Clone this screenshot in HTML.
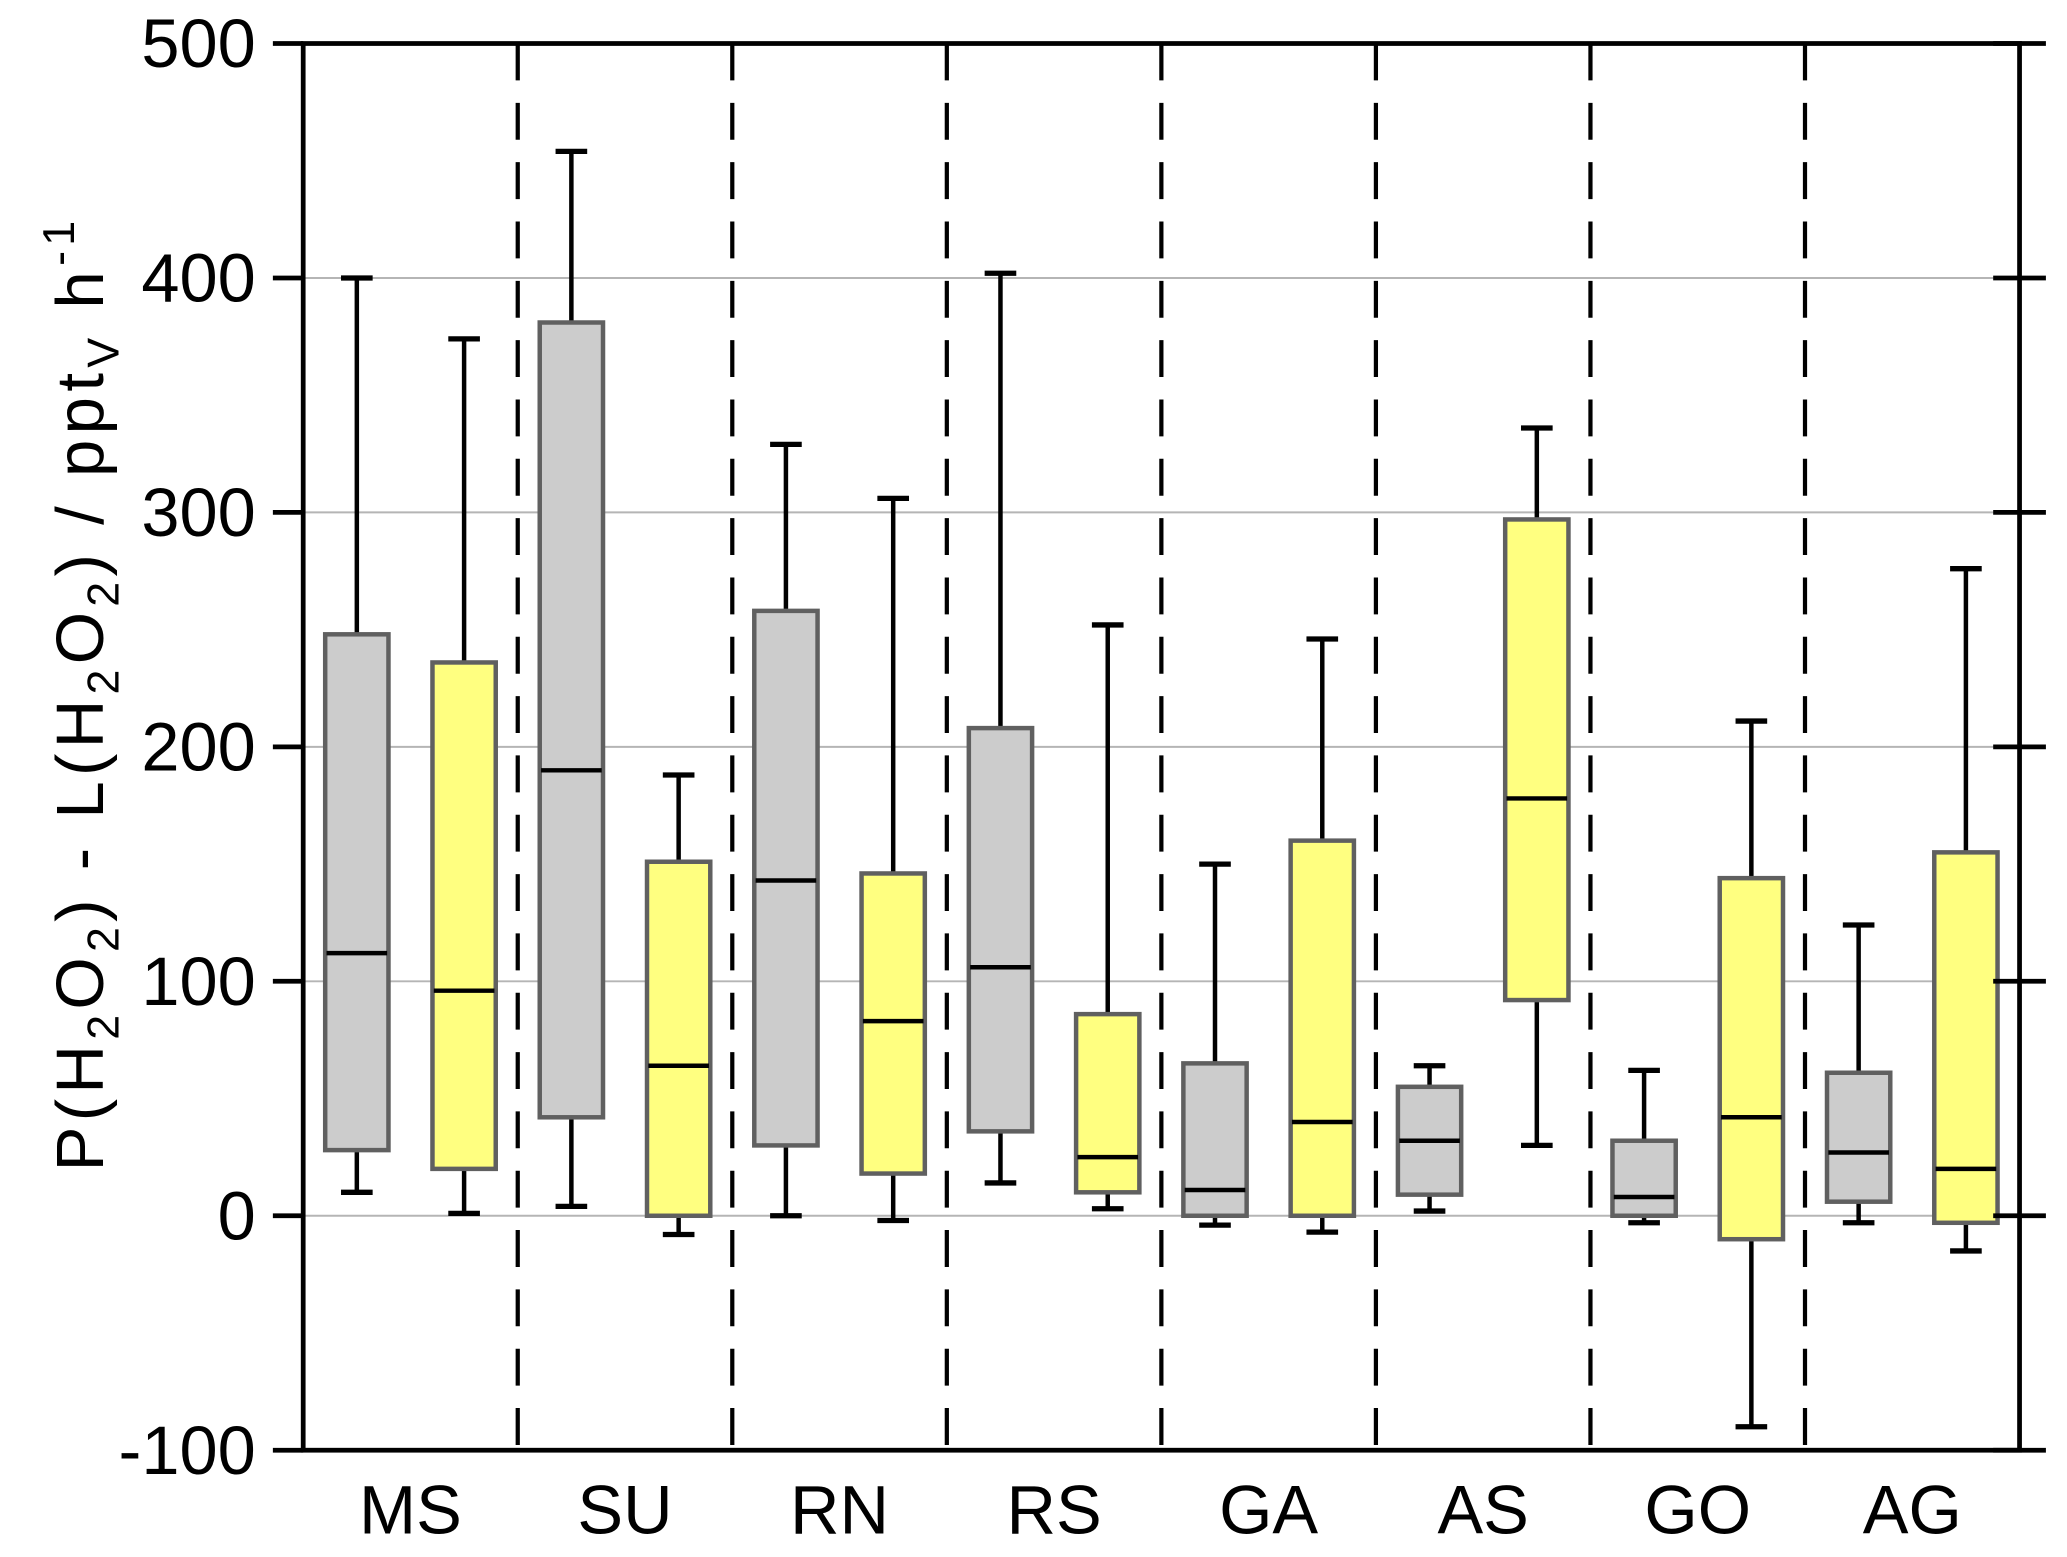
<!DOCTYPE html>
<html><head><meta charset="utf-8"><style>
html,body{margin:0;padding:0;background:#fff;}
svg{display:block;font-family:"Liberation Sans",Arial,sans-serif;}
</style></head><body>
<svg id="chart" width="2067" height="1557" viewBox="0 0 1568 1181" preserveAspectRatio="none" xmlns="http://www.w3.org/2000/svg">
<g id="grid"></g>
<g id="dividers"></g>
<g id="boxes"></g>
<g id="axes"></g>
<text transform="translate(78,526) rotate(-90)" text-anchor="middle" font-size="51" letter-spacing="4">P(H<tspan font-size="34" dy="12">2</tspan><tspan dy="-12">O</tspan><tspan font-size="34" dy="12">2</tspan><tspan dy="-12">) - L(H</tspan><tspan font-size="34" dy="12">2</tspan><tspan dy="-12">O</tspan><tspan font-size="34" dy="12">2</tspan><tspan dy="-12">) / ppt</tspan><tspan font-size="34" dy="12">V</tspan><tspan dy="-12"> h</tspan><tspan font-size="34" dy="-22">-1</tspan></text>
</svg>
<script>
const categories=["MS","SU","RN","RS","GA","AS","GO","AG"];
const grayMin=[10,4,0,14,-4,2,-3,-3];
const grayQ1=[28,42,30,36,0,9,0,6];
const grayMed=[112,190,143,106,11,32,8,27];
const grayQ3=[248,381,258,208,65,55,32,61];
const grayMax=[400,454,329,402,150,64,62,124];
const yelMin=[1,-8,-2,3,-7,30,-90,-15];
const yelQ1=[20,0,18,10,0,92,-10,-3];
const yelMed=[96,64,83,25,40,178,42,20];
const yelQ3=[236,151,146,86,160,297,144,155];
const yelMax=[374,188,306,252,246,336,211,276];
const yTicks=[-100,0,100,200,300,400,500];
const gridVals=[0,100,200,300,400];

const NS="http://www.w3.org/2000/svg";
const L=230,R=1532,T=33,B=1100,vmin=-100,vmax=500;
const y=v=>B-(v-vmin)/(vmax-vmin)*(B-T);
const gw=(R-L)/categories.length;
const gx=i=>L+gw*i;
function mk(tag,attrs,parent){const e=document.createElementNS(NS,tag);for(const k in attrs)e.setAttribute(k,attrs[k]);parent.appendChild(e);return e;}
const grid=document.getElementById('grid'),div=document.getElementById('dividers'),bx=document.getElementById('boxes'),ax=document.getElementById('axes');
gridVals.forEach(v=>{const l=mk('line',{x1:L,x2:R,y1:y(v),y2:y(v),stroke:'#b5b5b5','stroke-width':1.5},grid);

});
for(let i=1;i<categories.length;i++){const l=mk('line',{x1:gx(i),x2:gx(i),y1:T,y2:B,stroke:'#000','stroke-width':3.2,'stroke-dasharray':'28 17'},div);

}
function box(cx,mn,q1,md,q3,mx,fill,name){
 const g=mk('g',{},bx);
 
 
 mk('line',{x1:cx,x2:cx,y1:y(mx),y2:y(mn),stroke:'#000','stroke-width':3.4},g);
 mk('line',{x1:cx-12,x2:cx+12,y1:y(mx),y2:y(mx),stroke:'#000','stroke-width':4},g);
 mk('line',{x1:cx-12,x2:cx+12,y1:y(mn),y2:y(mn),stroke:'#000','stroke-width':4},g);
 mk('rect',{x:cx-24,y:y(q3),width:48,height:y(q1)-y(q3),fill:fill,stroke:'#606060','stroke-width':3.4},g);
 mk('line',{x1:cx-23,x2:cx+23,y1:y(md),y2:y(md),stroke:'#000','stroke-width':3.4},g);
}
categories.forEach((c,i)=>{
 const c1=gx(i)+gw*0.25,c2=gx(i)+gw*0.75;
 box(c1,grayMin[i],grayQ1[i],grayMed[i],grayQ3[i],grayMax[i],'#cccccc','box-'+c.toLowerCase()+'-gray');
 box(c2,yelMin[i],yelQ1[i],yelMed[i],yelQ3[i],yelMax[i],'#ffff80','box-'+c.toLowerCase()+'-yellow');
 const t=mk('text',{x:gx(i)+gw*0.5,y:1163,'text-anchor':'middle','font-size':52},ax);
 
 
 t.textContent=c;
});
const frame=mk('rect',{x:L,y:T,width:R-L,height:B-T,fill:'none',stroke:'#000','stroke-width':3.6},ax);


yTicks.forEach(v=>{
 mk('line',{x1:207,x2:L,y1:y(v),y2:y(v),stroke:'#000','stroke-width':3.6},ax);
 mk('line',{x1:R-20,x2:R+20,y1:y(v),y2:y(v),stroke:'#000','stroke-width':3.6},ax);
 const t=mk('text',{x:194,y:y(v)+18,'text-anchor':'end','font-size':52},ax);
 
 
 t.textContent=v;
});
</script>
</body></html>
